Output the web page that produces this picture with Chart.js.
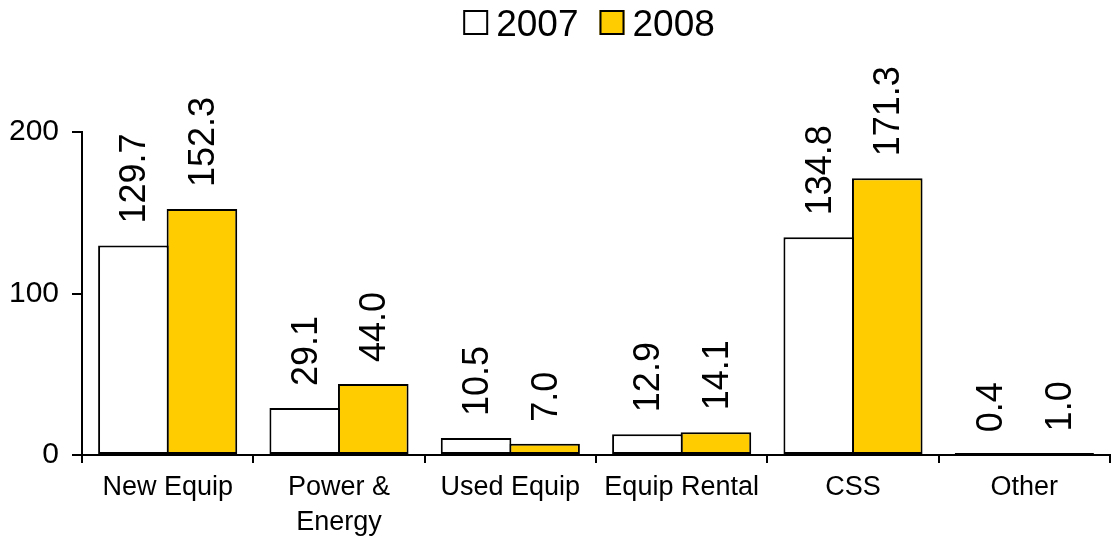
<!DOCTYPE html>
<html>
<head>
<meta charset="utf-8">
<script src="https://cdn.jsdelivr.net/npm/chart.js@4/dist/chart.umd.min.js"></script>
<style>
html,body{margin:0;padding:0;background:#fff;}
#wrap{width:1118px;height:538px;position:relative;}
</style>
</head>
<body>
<div id="wrap"><canvas id="c" width="1118" height="538"></canvas></div>
<script>
const categories = [["New Equip"], ["Power &", "Energy"], ["Used Equip"], ["Equip Rental"], ["CSS"], ["Other"]];
const seriesNames = ["2007", "2008"];
const values2007 = [129.7, 29.1, 10.5, 12.9, 134.8, 0.4];
const values2008 = [152.3, 44.0, 7.0, 14.1, 171.3, 1.0];
const yTicks = [0, 100, 200];

const FONT = "'Liberation Sans', Arial, sans-serif";

const dataLabels = {
  id: 'dataLabels',
  afterDatasetsDraw(chart) {
    const ctx = chart.ctx;
    ctx.save();
    ctx.font = "36px " + FONT;
    ctx.fillStyle = "#000";
    ctx.textAlign = "left";
    ctx.textBaseline = "middle";
    chart.data.datasets.forEach((ds, di) => {
      const meta = chart.getDatasetMeta(di);
      const yScale = chart.scales.y;
      meta.data.forEach((bar, i) => {
        const v = ds.data[i];
        const top = yScale.getPixelForValue(v);
        ctx.save();
        ctx.translate(bar.x + 2, top - 22);
        ctx.rotate(-Math.PI / 2);
        ctx.fillText(v.toFixed(1), 0, 0);
        ctx.restore();
      });
    });
    ctx.restore();
  }
};

const customLegend = {
  id: 'customLegend',
  afterDraw(chart) {
    const ctx = chart.ctx;
    ctx.save();
    ctx.font = "37px " + FONT;
    ctx.textBaseline = "alphabetic";
    ctx.textAlign = "left";
    const box = 25, gap = 8, itemGap = 21;
    const items = chart.data.datasets.map(d => ({label: d.label, color: d.backgroundColor}));
    let total = 0;
    items.forEach((it, k) => {
      it.w = ctx.measureText(it.label).width;
      total += box + gap + it.w + (k < items.length - 1 ? itemGap : 0);
    });
    let x = 589 - total / 2;
    const top = 10;
    items.forEach(it => {
      ctx.fillStyle = it.color;
      ctx.fillRect(x, top, box, box);
      ctx.lineWidth = 2;
      ctx.strokeStyle = "#000";
      ctx.strokeRect(x + 1, top + 1, box - 2, box - 2);
      ctx.fillStyle = "#000";
      ctx.fillText(it.label, x + box + gap, top + box + 1);
      x += box + gap + it.w + itemGap;
    });
    ctx.restore();
  }
};

new Chart(document.getElementById('c'), {
  type: 'bar',
  data: {
    labels: categories,
    datasets: [
      { label: seriesNames[0], data: values2007, backgroundColor: '#ffffff', borderColor: '#000000', borderWidth: 2, borderSkipped: false, minBarLength: 2 },
      { label: seriesNames[1], data: values2008, backgroundColor: '#ffcc00', borderColor: '#000000', borderWidth: 2, borderSkipped: false, minBarLength: 2 }
    ]
  },
  options: {
    responsive: false,
    animation: false,
    devicePixelRatio: 1,
    layout: { padding: { top: 132, right: 8, bottom: 0, left: 0 } },
    datasets: { bar: { categoryPercentage: 0.8, barPercentage: 1.03 } },
    plugins: { legend: { display: false }, tooltip: { enabled: false } },
    scales: {
      x: {
        grid: { offset: true, drawOnChartArea: false, drawTicks: true, tickLength: 8, color: '#000', lineWidth: 2 },
        border: { display: true, color: '#000', width: 2 },
        ticks: { color: '#000', font: { family: FONT, size: 27, lineHeight: 1.3 }, padding: 7, maxRotation: 0, autoSkip: false },
        afterFit(s) { s.height = 83; }
      },
      y: {
        min: 0, max: 200,
        afterBuildTicks(s) { s.ticks = yTicks.map(v => ({ value: v })); },
        grid: { drawOnChartArea: false, drawTicks: true, tickLength: 10, color: '#000', lineWidth: 2 },
        border: { display: true, color: '#000', width: 2 },
        ticks: { color: '#000', font: { family: FONT, size: 30 }, padding: 13 },
        afterFit(s) { s.width = 82; }
      }
    }
  },
  plugins: [dataLabels, customLegend]
});
</script>
</body>
</html>
